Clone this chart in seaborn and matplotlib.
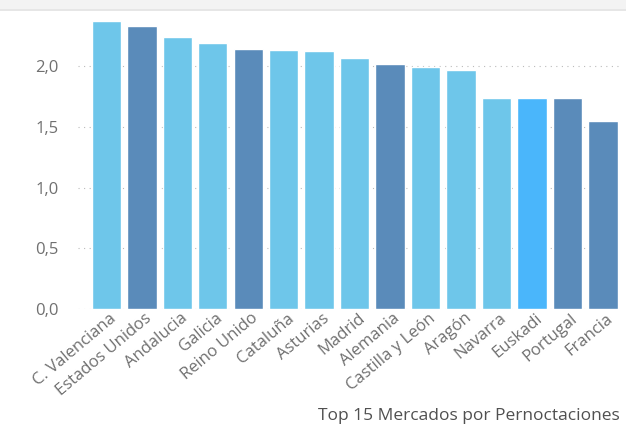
import matplotlib
matplotlib.use("Agg")
import matplotlib.pyplot as plt
import seaborn as sns
import pandas as pd
from matplotlib.patches import Rectangle

categories = ["C. Valenciana", "Estados Unidos", "Andalucia", "Galicia", "Reino Unido",
              "Cataluña", "Asturias", "Madrid", "Alemania", "Castilla y León",
              "Aragón", "Navarra", "Euskadi", "Portugal", "Francia"]
values = [2.37, 2.33, 2.24, 2.19, 2.14, 2.13, 2.12, 2.07, 2.02, 1.99, 1.97, 1.74, 1.74, 1.74, 1.55]
kind = ["light", "dark", "light", "light", "dark", "light", "light", "light", "dark", "light",
        "light", "light", "bright", "dark", "dark"]
yticks = [0.0, 0.5, 1.0, 1.5, 2.0]
ytick_labels = ["0,0", "0,5", "1,0", "1,5", "2,0"]
title = "Top 15 Mercados por Pernoctaciones"

palette = {"light": "#6EC6EA", "dark": "#5A8BBA", "bright": "#4AB6FB"}

sns.set_theme(style="white")
plt.rcParams["font.family"] = ["Open Sans", "DejaVu Sans"]

df = pd.DataFrame({"cat": categories, "val": values, "kind": kind})

fig = plt.figure(figsize=(6.26, 4.26), dpi=100)
ax = fig.add_axes([78/626, 1 - 309/426, (622-78)/626, (309-15)/426])

sns.barplot(data=df, x="cat", y="val", hue="kind", palette=palette, dodge=False,
            width=0.83, legend=False, ax=ax, zorder=3, saturation=1)

ax.set_xlim(-0.80, 14.54)
ax.set_ylim(0, 2.42)
ax.set_yticks(yticks)
ax.set_yticklabels(ytick_labels, fontsize=12, color="#707070")
ax.tick_params(axis="y", length=0, pad=14)
ax.tick_params(axis="x", length=0, pad=1)
ax.set_xticks(range(len(categories)))
ax.set_xticklabels(categories, rotation=40, ha="right", rotation_mode="anchor",
                   fontsize=12, color="#707070")
for t in ax.get_xticklabels():
    t.set_transform(t.get_transform() + matplotlib.transforms.ScaledTranslation(3/100, 0, fig.dpi_scale_trans))
ax.set_xlabel("")
ax.set_ylabel("")
for s in ax.spines.values():
    s.set_visible(False)
ax.grid(axis="y", linestyle=(0, (1, 4)), color="#BBBBBB", linewidth=0.8, zorder=0)
ax.grid(axis="x", visible=False)

fig.text(620/626, 1 - 416/426, title, ha="right", va="center", fontsize=12.5, color="#505050")

fig.patches.append(Rectangle((0, 1 - 9/426), 1, 9/426, transform=fig.transFigure,
                             facecolor="#F3F3F3", edgecolor="none"))
fig.patches.append(Rectangle((0, 1 - 11/426), 1, 2/426, transform=fig.transFigure,
                             facecolor="#E6E6E6", edgecolor="none"))

fig.savefig("out.png", dpi=100)
